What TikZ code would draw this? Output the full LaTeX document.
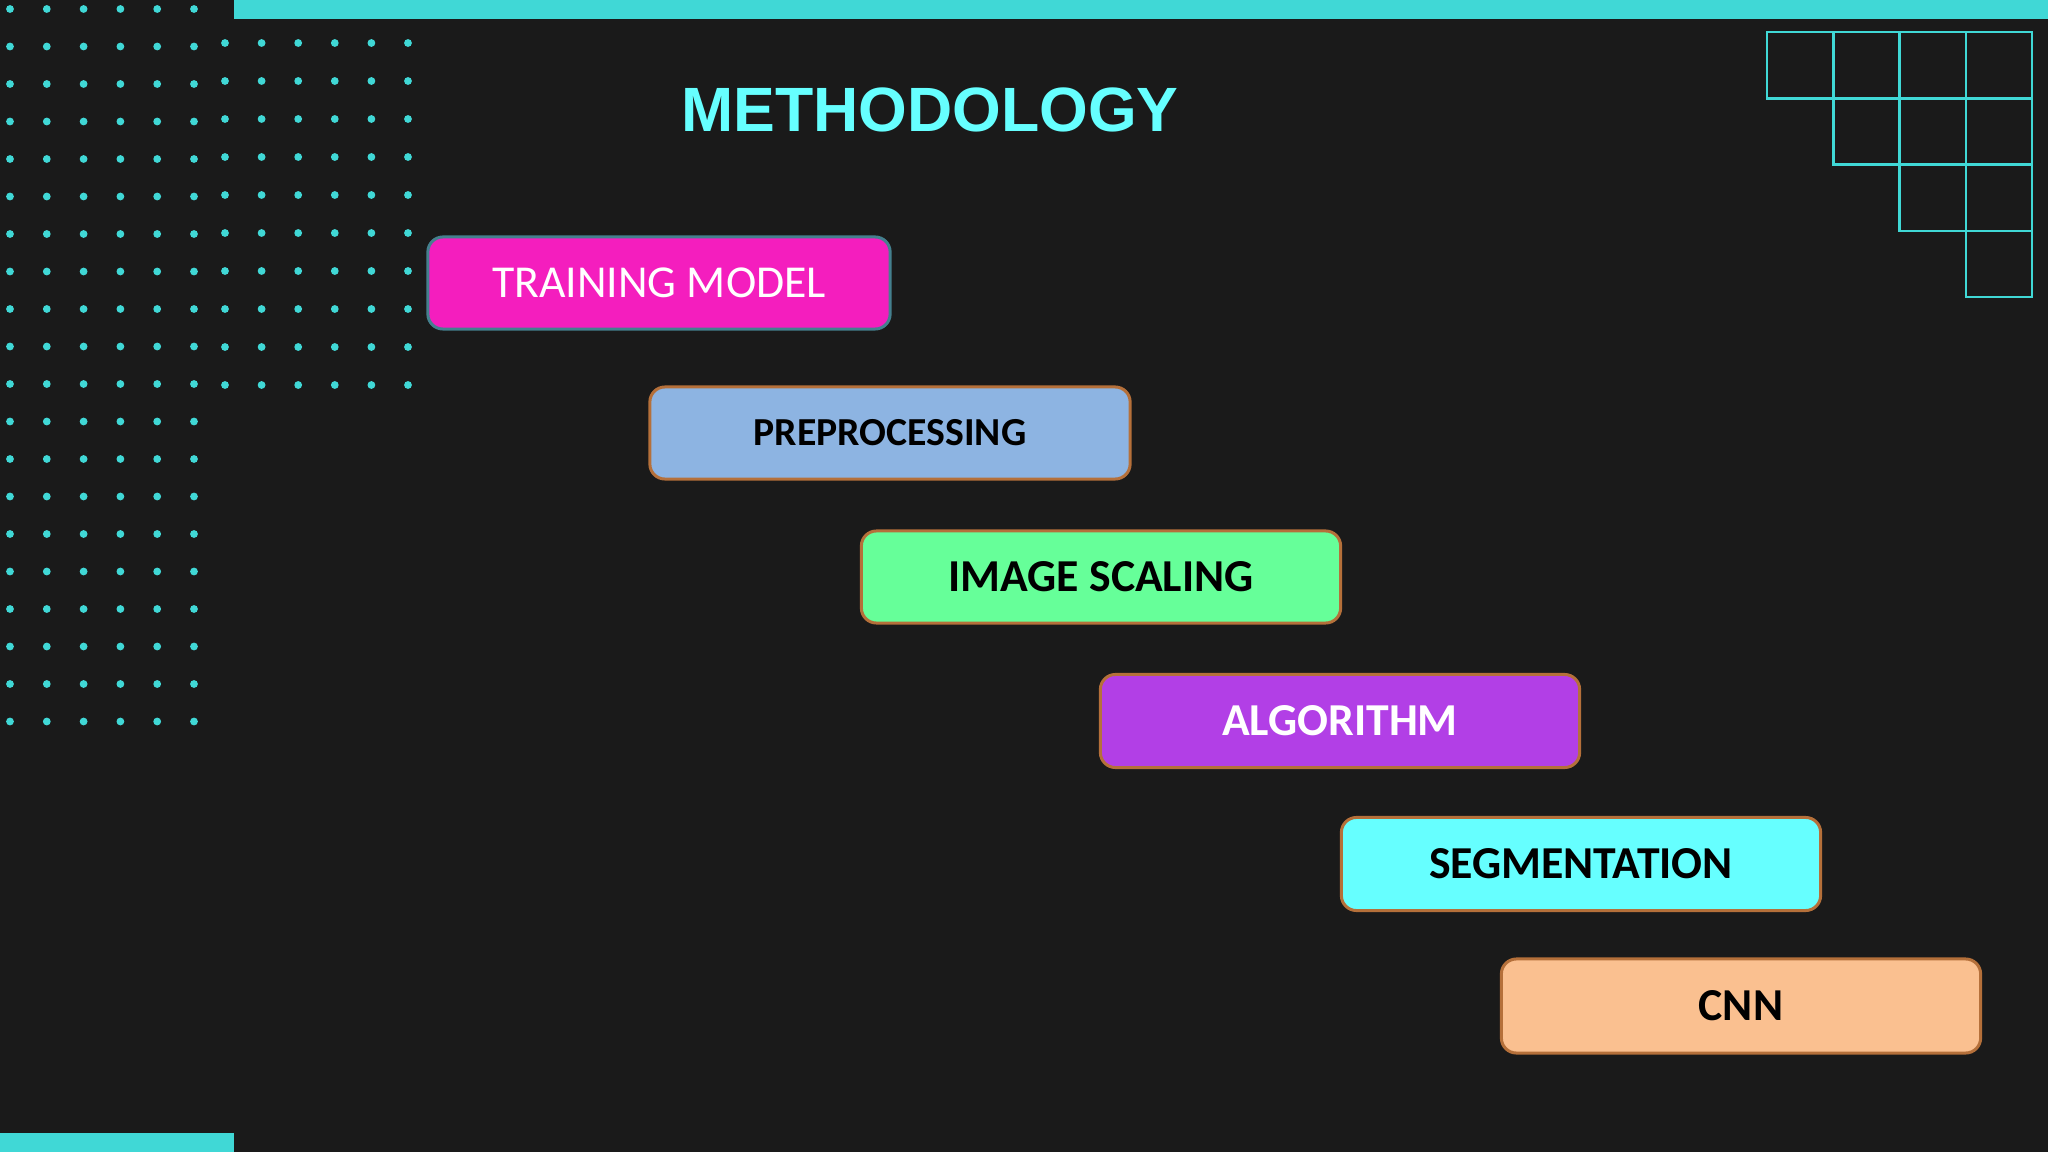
\documentclass[tikz,border=0pt]{standalone}
\usepackage{fontspec}
\setmainfont{Carlito}
\newfontfamily\titlefont{Liberation Sans}
\usepackage{tikz}

\definecolor{bgdark}{HTML}{1A1A1A}
\definecolor{accent}{HTML}{40D8D6}
\definecolor{titlecyan}{HTML}{66FFFF}
\definecolor{edgebrown}{HTML}{B5703A}
\definecolor{edgeteal}{HTML}{44808E}
\definecolor{trainpink}{HTML}{F41EBE}
\definecolor{prepblue}{HTML}{8DB4E2}
\definecolor{scalegreen}{HTML}{66FF99}
\definecolor{algopurple}{HTML}{B23FE6}
\definecolor{segcyan}{HTML}{66FFFF}
\definecolor{cnnpeach}{HTML}{FAC090}

\begin{document}
\begin{tikzpicture}[x=0.01cm, y=-0.01cm,
        stage/.style={rectangle, rounded corners=0.15cm, draw=edgebrown, line width=0.03cm,
            minimum width=4.79cm, minimum height=0.92cm, inner sep=0pt, font=\fontsize{13}{15}\selectfont\bfseries},
        dot/.style={fill=accent}]
        \fill[bgdark] (0, 0) rectangle (2048, 1152);

        \fill[accent] (234, 0) rectangle (2048, 19);
        \fill[accent] (0, 1133) rectangle (234, 1152);

        \foreach \i in {0,...,5}
            \foreach \j in {0,...,19}
                \fill[dot] (10+36.8*\i, 9+37.5*\j) circle (3.9);
        \foreach \i in {0,...,5}
            \foreach \j in {0,...,9}
                \fill[dot] (225+36.6*\i, 43+38*\j) circle (3.9);

        \foreach \r in {0,...,3}
            \foreach \c in {\r,...,3}
                \draw[accent, line width=0.025cm] (1767+66.3*\c, 32+66.3*\r) rectangle ++(66.3, 66.3);

        \node[anchor=base, text=titlecyan, font=\titlefont\fontsize{17.8}{20}\selectfont\bfseries] (title) at (930, 132) {METHODOLOGY};

        \node[stage, fill=trainpink, draw=edgeteal, minimum width=4.62cm, text=white, font=\fontsize{13}{16}\selectfont] (train) at (659, 283) {TRAINING MODEL};
        \node[stage, fill=prepblue, minimum width=4.8cm, font=\fontsize{11.3}{14}\selectfont\bfseries] (prep) at (890, 433) {PREPROCESSING};
        \node[stage, fill=scalegreen] (scale) at (1101, 577) {IMAGE SCALING};
        \node[stage, fill=algopurple, text=white, minimum height=0.93cm] (algo) at (1340, 721) {ALGORITHM};
        \node[stage, fill=segcyan, minimum height=0.93cm] (seg) at (1581, 864) {SEGMENTATION};
        \node[stage, fill=cnnpeach, minimum height=0.94cm] (cnn) at (1741, 1006) {CNN};
    \end{tikzpicture}
\end{document}
